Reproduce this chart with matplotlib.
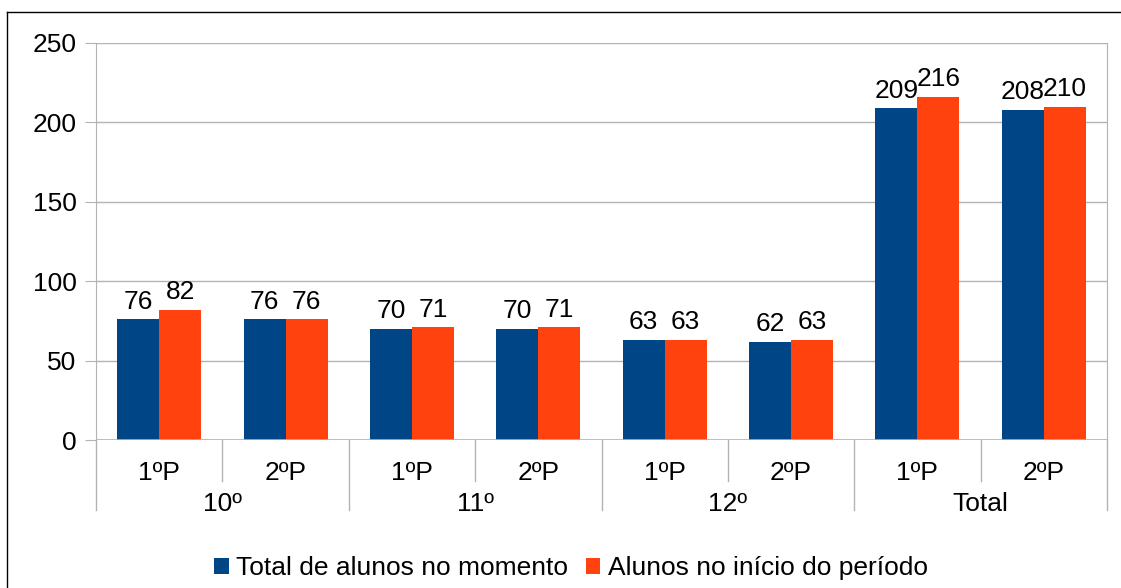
import matplotlib.pyplot as plt
import numpy as np
from matplotlib.lines import Line2D

plt.rcParams['font.family'] = ['Liberation Sans', 'DejaVu Sans']

# data
groups = ["10º", "11º", "12º", "Total"]
periods = ["1ºP", "2ºP"]
total_now = [76, 76, 70, 70, 63, 62, 209, 208]
at_start = [82, 76, 71, 71, 63, 63, 216, 210]
series_names = ["Total de alunos no momento", "Alunos no início do período"]

BLUE = "#004586"
ORANGE = "#ff420e"
GRID = "#b3b3b3"
FS = 19

fig = plt.figure(figsize=(11.21, 5.88), dpi=100)
ax = fig.add_axes([96 / 1121, 1 - 440 / 588, (1107 - 96) / 1121, (440 - 43) / 588])

x = np.arange(len(total_now))
w = 0.332
b1 = ax.bar(x - w / 2, total_now, w, color=BLUE, label=series_names[0], zorder=3)
b2 = ax.bar(x + w / 2, at_start, w, color=ORANGE, label=series_names[1], zorder=3)

for bars in (b1, b2):
    for r in bars:
        ax.annotate(str(int(r.get_height())), (r.get_x() + r.get_width() / 2, r.get_height()),
                    xytext=(0, 4), textcoords="offset points", ha="center", va="bottom",
                    fontsize=FS)

ax.set_xlim(-0.5, len(x) - 0.5)
ax.set_ylim(0, 250)
ax.set_yticks(range(0, 251, 50))
ax.tick_params(axis="y", length=8, color=GRID, pad=6, labelsize=FS)
ax.set_xticks([])
ax.grid(axis="y", color=GRID, lw=1, zorder=0)
for s in ("top", "bottom"):
    ax.spines[s].set_visible(False)
for s in ("left", "right"):
    ax.spines[s].set_color(GRID)
ax.axhline(0, color=GRID, lw=1.2, zorder=4)

# category axis: inner and outer labels with separators
trans = ax.get_xaxis_transform()
px = 1 / (440 - 43)  # one pixel in axes fraction (vertical)
for i, xi in enumerate(x):
    ax.text(xi, -33 * px, periods[i % 2], ha="center", va="center", fontsize=FS,
            transform=trans)
for g, name in enumerate(groups):
    ax.text(2 * g + 0.5, -64 * px, name, ha="center", va="center", fontsize=FS,
            transform=trans)
for k in range(len(x) + 1):
    xb = k - 0.5
    depth = 70 if k % 2 == 0 else 41
    ax.add_line(Line2D([xb, xb], [0, -depth * px], color=GRID, lw=1, transform=trans,
                       clip_on=False))

fig.legend(loc="center", bbox_to_anchor=(571 / 1121, 1 - 568 / 588), ncol=2, frameon=False,
           fontsize=FS, handlelength=0.55, handleheight=0.55, handletextpad=0.3,
           columnspacing=0.65)

# outer chart border (left and top visible)
fig.add_artist(Line2D([7 / 1121, 7 / 1121], [0, 1 - 12 / 588], color="black", lw=1,
                      transform=fig.transFigure))
fig.add_artist(Line2D([7 / 1121, 1], [1 - 12 / 588, 1 - 12 / 588], color="black", lw=1,
                      transform=fig.transFigure))

fig.savefig("out.png", dpi=100)
